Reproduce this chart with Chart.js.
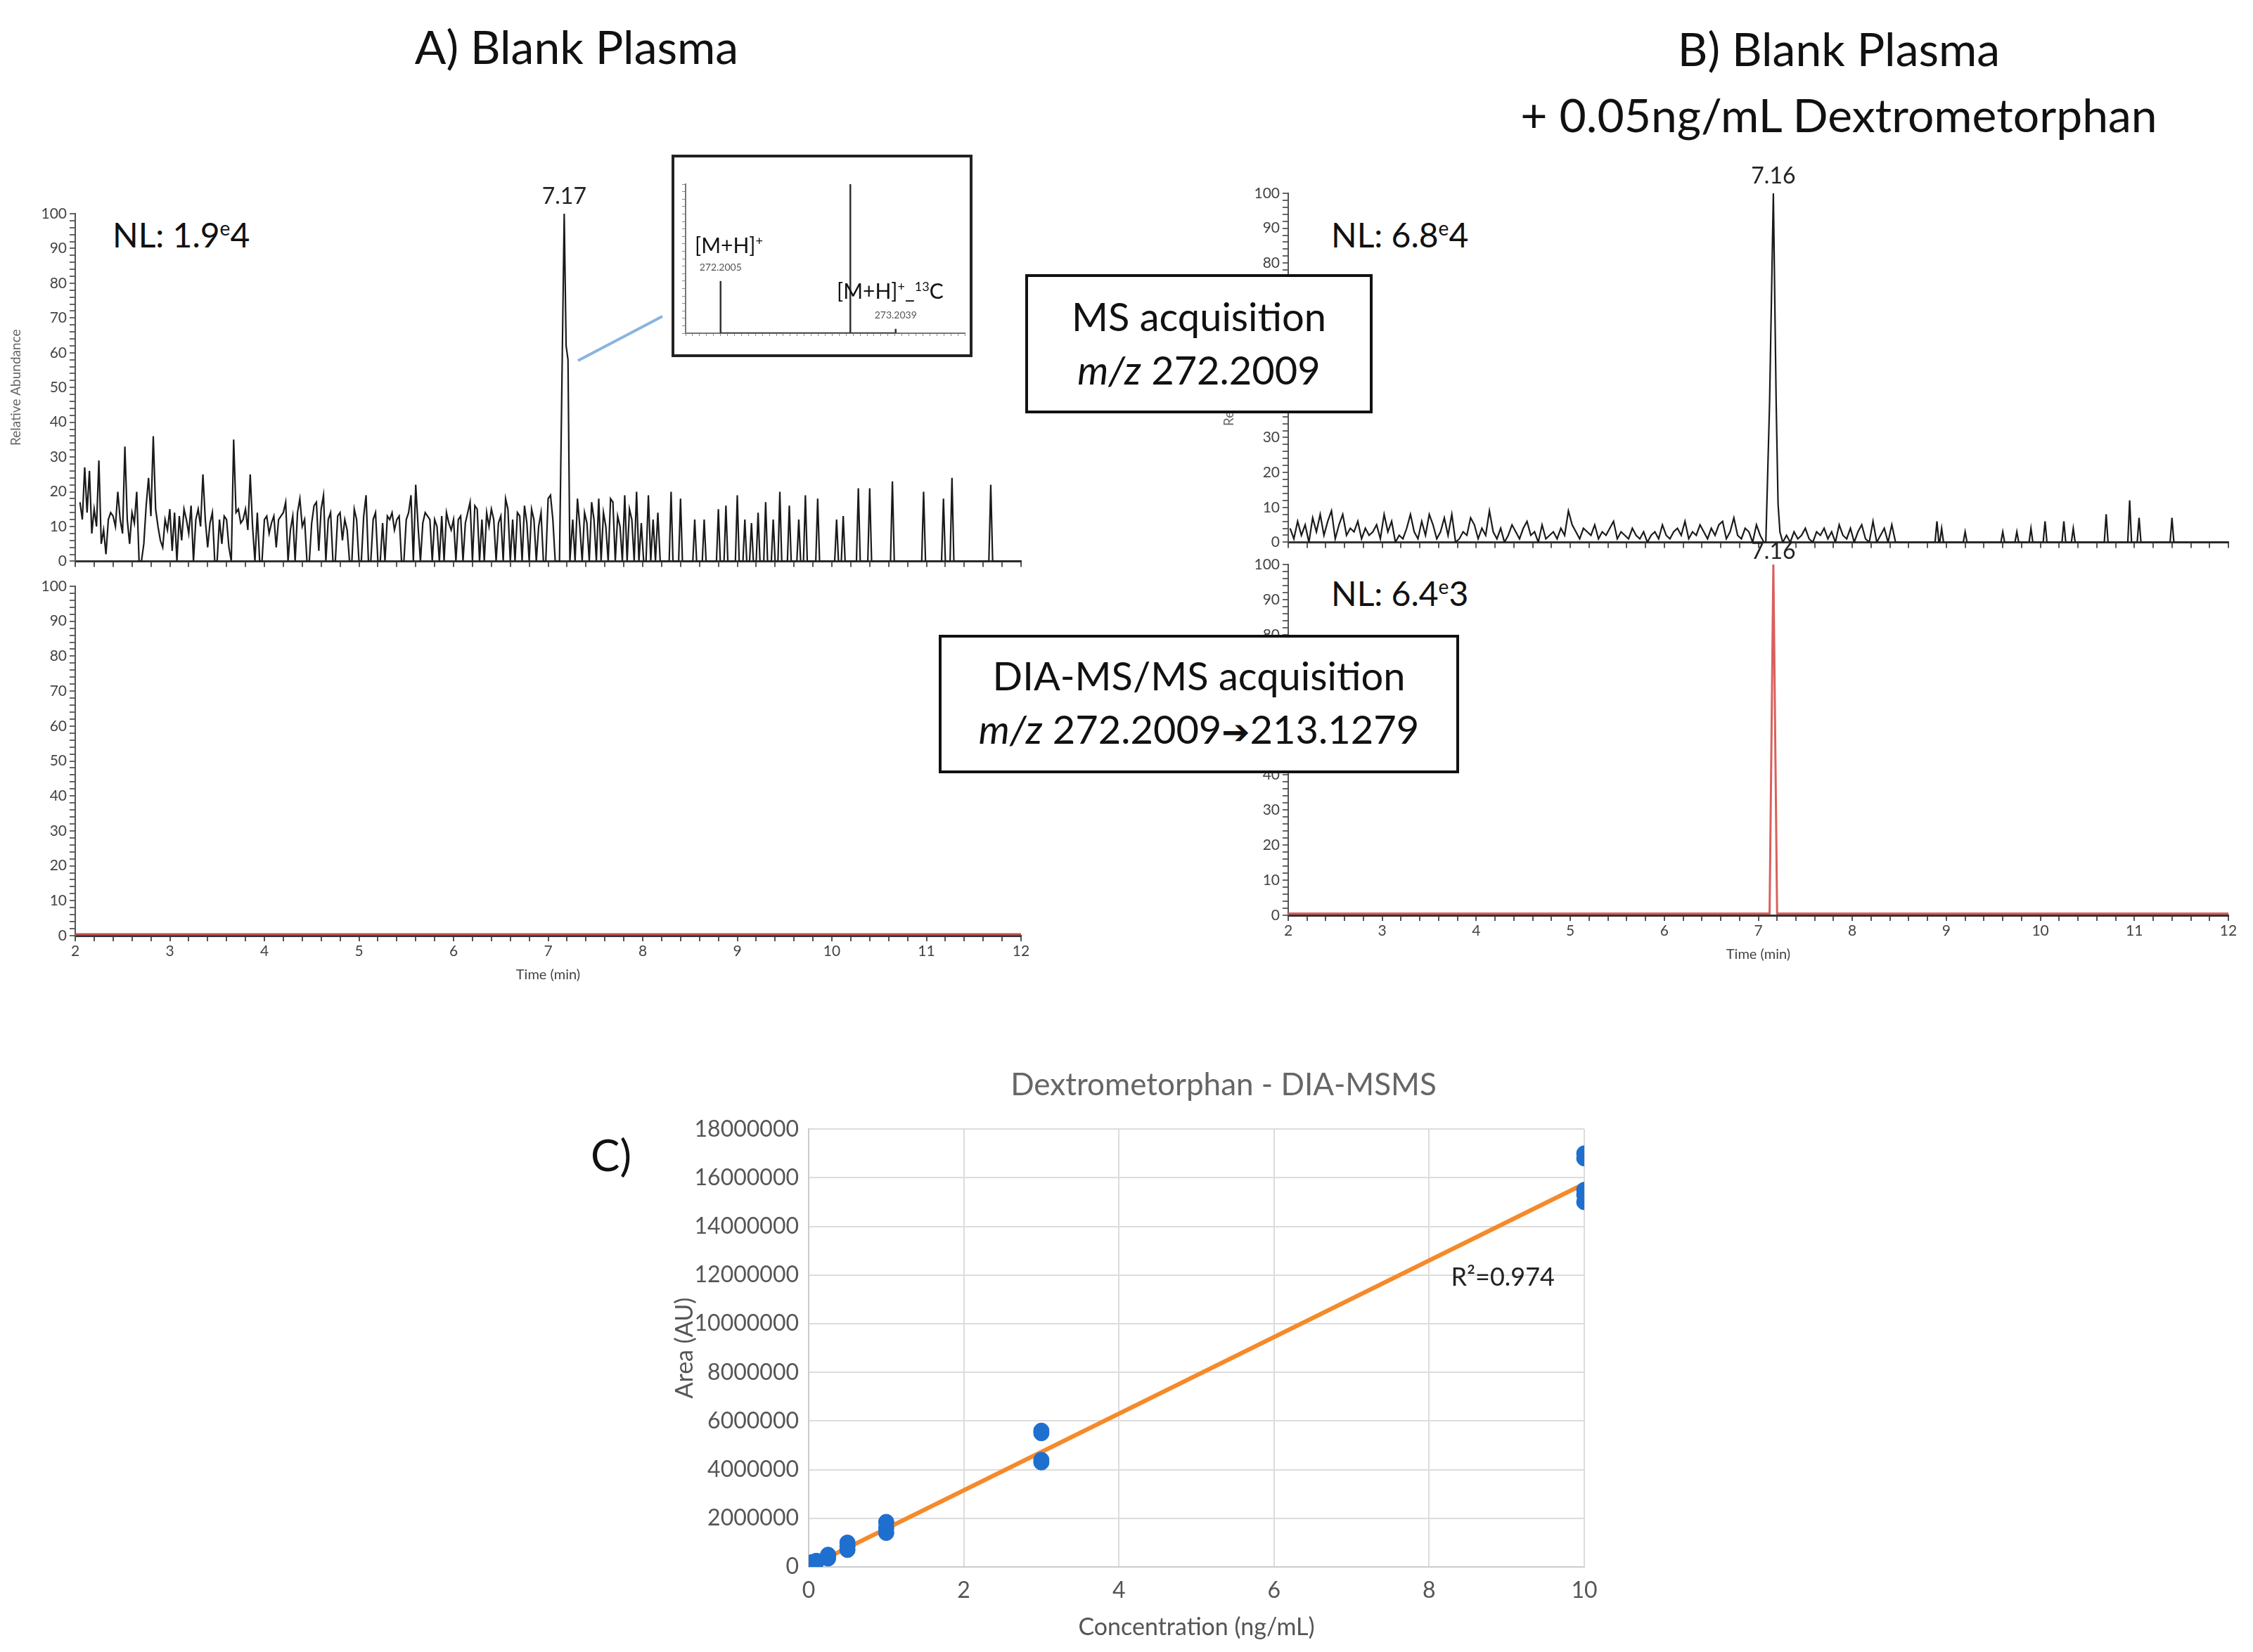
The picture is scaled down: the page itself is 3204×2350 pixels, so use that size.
<!DOCTYPE html>
<html><head><meta charset="utf-8">
<script src="https://cdn.jsdelivr.net/npm/chart.js@4.4.1/dist/chart.umd.min.js"></script>
<style>
body{margin:0;background:#fff;width:3204px;height:2350px;position:relative;overflow:hidden;font-family:Lato,"Open Sans",sans-serif;}
canvas{position:absolute;}
.t{position:absolute;white-space:nowrap;color:#111;}
.box{position:absolute;border:4px solid #111;background:#fff;box-sizing:border-box;text-align:center;color:#111;font-size:56px;line-height:76px;}
</style></head><body>
<div class="t" style="left:0;width:1640px;text-align:center;top:26px;font-size:66px;">A) Blank Plasma</div>
<div class="t" style="left:1800px;width:1630px;text-align:center;top:22px;font-size:66px;line-height:94px;">B) Blank Plasma<br>+ 0.05ng/mL Dextrometorphan</div>
<div class="t" style="left:160px;top:305px;font-size:48px;">NL: 1.9<sup style="font-size:28px">e</sup>4</div>
<div class="t" style="left:1893px;top:305px;font-size:48px;">NL: 6.8<sup style="font-size:28px">e</sup>4</div>
<div class="t" style="left:1893px;top:815px;font-size:48px;">NL: 6.4<sup style="font-size:28px">e</sup>3</div>

<canvas id="aTop"></canvas>
<canvas id="aBot"></canvas>
<canvas id="bTop"></canvas>
<canvas id="bBot"></canvas>
<canvas id="cal"></canvas>

<div class="box" style="left:1458px;top:390px;width:494px;height:198px;padding-top:18px;">MS acquisition<br><i>m/z</i> 272.2009</div>
<div class="box" style="left:1335px;top:903px;width:740px;height:197px;padding-top:16px;">DIA-MS/MS acquisition<br><i>m/z</i> 272.2009<span style="font-family:'DejaVu Sans';font-size:48px;">&#10132;</span>213.1279</div>

<div style="position:absolute;left:955px;top:220px;width:428px;height:288px;border:4px solid #222;box-sizing:border-box;background:#fff;"></div>
<canvas id="inset"></canvas>
<div class="t" style="left:988px;top:330px;font-size:30px;">[M+H]<sup style="font-size:18px">+</sup></div>
<div class="t" style="left:1190px;top:395px;font-size:30px;">[M+H]<sup style="font-size:18px">+</sup>_<sup style="font-size:18px">13</sup>C</div>
<svg style="position:absolute;left:0;top:0" width="3204" height="2350"><line x1="822" y1="513" x2="942" y2="450" stroke="#8ab4e0" stroke-width="4"/></svg>

<div class="t" style="left:1240px;width:1000px;text-align:center;top:1515px;font-size:44px;color:#666;">Dextrometorphan - DIA-MSMS</div>
<div class="t" style="left:840px;top:1605px;font-size:62px;">C)</div>

<script>
// ---------- Data ----------
// A) MS chromatogram, blank plasma: dense noise from 2.05 min, step 0.025 min
const aNoiseStart = 2.05, aNoiseStep = 0.025;
const aNoise = [17,12,27,14,26,8,15,10,29,5, 9,2,12,14,13,10,20,12,8,33, 12,5,14,11,20,0,0,5,16,24,
 13,36,15,10,6,4,12,9,15,3, 14,0,13,6,15,12,8,16,0,12, 15,10,25,12,4,11,14,0,0,12,
 5,13,12,4,0,35,14,15,11,12, 15,9,25,10,0,14,0,0,12,13, 8,11,13,4,12,13,14,17,0,9,
 13,0,14,18,10,12,0,0,11,16, 17,3,15,19,0,12,14,0,0,13, 14,6,12,9,0,0,15,12,0,0,
 13,19,0,0,12,14,0,0,11,0, 13,12,14,9,12,13,0,0,12,14, 19,0,22,10,0,11,14,13,12,0,
 12,10,0,13,0,14,11,9,12,0, 12,13,0,11,14,17,0,16,15,0, 12,0,14,10,15,12,0,11,13,0,
 18,15,0,12,0,14,13,0,16,11, 0,15,12,0,10,14,0,0,18,19, 12,0,0];
const aPeakT = [7.12,7.15,7.17,7.19,7.21,7.23];
const aPeakY = [0,60,100,62,58,0];
const aPostStart = 7.26, aPostStep = 0.025;
const aPost = [12,0,18,10,0,14,11,0,17,12, 0,18,0,14,10,0,18,17,0,13, 10,0,19,0,15,12,0,20,0,11, 0,0,19,0,12,0,14,0];
const aSpikeT = [8.3,8.4,8.55,8.65,8.8,8.88,9.0,9.08,9.15,9.22,9.3,9.38,9.45,9.55,9.65,9.72,9.85,10.05,10.12,10.28,10.4,10.64,10.97,11.18,11.27,11.68];
const aSpikeY = [20,18,12,12,15,16,19,12,11,14,17,12,20,16,12,19,18,12,13,21,21,23,20,18,24,22];
// A) DIA-MS/MS trace (flat)
const aMsmsT = [2,12];
const aMsmsY = [0.4,0.4];

// B) MS chromatogram, spiked plasma: noise from 2.02 min, step 0.04 min
const bNoiseStart = 2.02, bNoiseStep = 0.04;
const bNoise = [4,1,6,2,5,0,7,3,8,2, 6,9,1,5,8,2,4,3,6,1, 4,2,3,5,1,8,3,6,0,2, 1,4,8,3,1,6,2,8,5,1,
 3,7,2,8,0,1,3,2,7,5, 1,4,2,9,3,1,4,0,2,5, 3,1,4,6,2,3,0,5,1,2, 3,1,4,2,9,5,3,1,4,3,
 2,5,1,3,2,4,6,1,3,2, 1,4,2,1,3,0,2,3,1,5, 2,1,3,4,2,6,1,3,2,5, 3,1,4,2,5,6,1,3,7,2, 1,4,3,0,5,2,0];
const bPeakT = [7.08,7.12,7.16,7.19,7.21,7.23,7.26];
const bPeakY = [0,40,100,40,11,3,0];
const bPostStart = 7.3, bPostStep = 0.04;
const bPost = [2,0,3,1,2,4,1,0,3,2, 4,1,3,0,5,2,1,4,0,3, 5,1,0,6,0,2,4,0,5,0,0];
const bSpikeT = [8.9,8.95,9.2,9.6,9.75,9.9,10.05,10.25,10.35,10.7,10.95,11.05,11.4];
const bSpikeY = [6,4,3,3,3,4,6,6,4,8,12,7,7];
// B) DIA-MS/MS trace
const bMsmsT = [2,7.12,7.14,7.16,7.18,7.2,12];
const bMsmsY = [0.5,0.5,50,100,50,0.5,0.5];

// Inset mass spectrum
const specMz = [272.2005,272.9441,273.2039];
const specInt = [35,100,3];

// C) Calibration curve
const calX = [0.05,0.05,0.05,0.1,0.1,0.25,0.25,0.25,0.5,0.5,0.5,1,1,1,3,3,3,3,10,10,10,10,10];
const calY = [100000,150000,200000,200000,250000,350000,450000,500000,700000,850000,1000000,1400000,1600000,1850000,4300000,4400000,5500000,5600000,15000000,15300000,15500000,16800000,17000000];
const fitX = [0.05,10];
const fitY = [80000,15750000];
const r2Text = 'R²=0.974';

// ---------- Build series ----------
function seq(start, step, vals){return vals.map((v,i)=>({x:+(start+i*step).toFixed(3),y:v}));}
function pairs(xs,ys){return xs.map((x,i)=>({x,y:ys[i]}));}
function spikes(ts,hs){const o=[];ts.forEach((t,i)=>{o.push({x:t-0.02,y:0},{x:t,y:hs[i]},{x:t+0.02,y:0});});return o;}

const aTopData = [...seq(aNoiseStart,aNoiseStep,aNoise),...pairs(aPeakT,aPeakY),...seq(aPostStart,aPostStep,aPost),...spikes(aSpikeT,aSpikeY),{x:12,y:0}];
const bTopData = [...seq(bNoiseStart,bNoiseStep,bNoise),...pairs(bPeakT,bPeakY),...seq(bPostStart,bPostStep,bPost),...spikes(bSpikeT,bSpikeY),{x:12,y:0}];

Chart.defaults.devicePixelRatio = 1;
Chart.defaults.animation = false;
Chart.defaults.font.family = 'Lato, "Open Sans", sans-serif';

const peakLabel = {id:'peakLabel',afterDatasetsDraw(c,a,o){
  if(!o.items) return; const ctx=c.ctx;
  o.items.forEach(it=>{const x=c.scales.x.getPixelForValue(it.x),y=c.scales.y.getPixelForValue(it.y);
    ctx.save();ctx.fillStyle=it.color||'#222';ctx.font=(it.size||28)+'px Lato, sans-serif';ctx.textAlign='center';ctx.textBaseline='bottom';
    ctx.fillText(it.text,x+(it.dx||0),y-(it.dy||6));ctx.restore();});
}};
Chart.register(peakLabel);

function place(id, areaL, areaT, areaR, areaB, yW, xH, padT, padR){
  const c=document.getElementById(id);
  const L=areaL-yW, T=areaT-padT, W=areaR-L+padR, H=areaB-T+xH;
  c.style.left=L+'px';c.style.top=T+'px';c.width=W;c.height=H;c.style.width=W+'px';c.style.height=H+'px';
  return c;
}

function chrom(id, box, datasets, showX, yTitle, labels){
  const [l,t,r,b]=box;
  const xH=showX?68:14;
  const c=place(id,l,t,r,b,100,xH,60,20);
  new Chart(c,{type:'line',data:{datasets},options:{
    responsive:false,maintainAspectRatio:false,layout:{padding:{top:60,right:20,left:0,bottom:0}},
    elements:{point:{radius:0},line:{tension:0,borderJoinStyle:'miter'}},
    plugins:{legend:{display:false},tooltip:{enabled:false},peakLabel:{items:labels}},
    scales:{
      x:{type:'linear',min:2,max:12,afterFit:s=>{s.height=xH;},
        border:{color:'#333',width:3},
        grid:{drawOnChartArea:false,drawTicks:true,tickLength:8,color:'#555',lineWidth:2},
        ticks:{stepSize:0.2,autoSkip:false,maxRotation:0,color:'#444',font:{size:21},padding:2,
          display:showX,callback:v=>Math.abs(v-Math.round(v))<1e-6?String(Math.round(v)):''},
        title:{display:showX,text:'Time (min)',color:'#444',font:{size:20},padding:{top:0,bottom:0}}},
      y:{type:'linear',min:0,max:100,afterFit:s=>{s.width=100;},
        border:{color:'#555',width:2},
        grid:{drawOnChartArea:false,drawTicks:true,tickLength:8,color:'#666',lineWidth:2},
        ticks:{stepSize:2,autoSkip:false,color:'#444',font:{size:21},padding:4,
          callback:v=>v%10===0?String(v):''},
        title:{display:!!yTitle,text:'Relative Abundance',color:'#666',font:{size:19},padding:{bottom:2}}}
    }}});
}

chrom('aTop',[107,304,1452,801],[{data:aTopData,borderColor:'#1a1a1a',borderWidth:2.2,fill:false}],false,true,[{x:7.17,y:100,text:'7.17',size:32,dy:8}]);
chrom('aBot',[107,834,1452,1331],[{data:pairs(aMsmsT,aMsmsY),borderColor:'#c0504d',borderWidth:3,fill:false}],true,false,[]);
chrom('bTop',[1832,275,3169,774],[{data:bTopData,borderColor:'#1a1a1a',borderWidth:2.2,fill:false}],false,true,[{x:7.16,y:100,text:'7.16',size:32,dy:8}]);
chrom('bBot',[1832,803,3169,1302],[{data:pairs(bMsmsT,bMsmsY),borderColor:'#d9605c',borderWidth:3,fill:false}],true,false,[{x:7.16,y:100,text:'7.16',size:32,dy:2}]);

// Inset spectrum
(function(){
  const c=place('inset',975,262,1372,474,10,12,8,6);
  const data=[];specMz.forEach((m,i)=>{data.push({x:m,y:0},{x:m,y:specInt[i]},{x:m,y:0});});
  new Chart(c,{type:'line',data:{datasets:[{data,borderColor:'#333',borderWidth:2.5,pointRadius:0,tension:0}]},options:{
    responsive:false,layout:{padding:{top:8,right:6}},
    plugins:{legend:{display:false},tooltip:{enabled:false},peakLabel:{items:specMz.map((m,i)=>({x:m,y:specInt[i],text:m.toFixed(4),size:14,color:'#555',dy:12}))}},
    scales:{x:{type:'linear',min:272.0,max:273.6,afterFit:s=>{s.height=12;},border:{color:'#777',width:2},
        grid:{drawOnChartArea:false,tickLength:4,color:'#888'},ticks:{stepSize:0.04,autoSkip:false,display:false}},
      y:{type:'linear',min:0,max:100,afterFit:s=>{s.width=10;},border:{color:'#777',width:2},
        grid:{drawOnChartArea:false,tickLength:5,color:'#888'},ticks:{stepSize:5,autoSkip:false,display:false}}}
  }});
})();

// Calibration
(function(){
  const c=place('cal',1150,1597,2253,2229,200,110,24,50);
  new Chart(c,{type:'scatter',data:{datasets:[
    {type:'line',data:pairs(fitX,fitY),borderColor:'#f58a2a',borderWidth:6,pointRadius:0,order:2},
    {data:pairs(calX,calY),backgroundColor:'#1f6fcf',borderColor:'#1f6fcf',pointRadius:11,order:1}
  ]},options:{responsive:false,layout:{padding:{top:24,right:50}},
    plugins:{legend:{display:false},tooltip:{enabled:false},peakLabel:{items:[{x:8.95,y:11200000,text:r2Text,size:36,color:'#222'}]}},
    scales:{
      x:{type:'linear',min:0,max:10,afterFit:s=>{s.height=110;},border:{color:'#ccc',width:2},
        grid:{color:'#dcdcdc',lineWidth:2,drawTicks:false},
        ticks:{stepSize:2,color:'#555',font:{size:32},padding:14},
        title:{display:true,text:'Concentration (ng/mL)',color:'#555',font:{size:34},padding:{top:0}}},
      y:{type:'linear',min:0,max:18000000,afterFit:s=>{s.width=200;},border:{color:'#ccc',width:2},
        grid:{color:'#dcdcdc',lineWidth:2,drawTicks:false},
        ticks:{stepSize:2000000,color:'#555',font:{size:32},padding:14,callback:v=>String(v)},
        title:{display:true,text:'Area (AU)',color:'#555',font:{size:34},padding:{bottom:0}}}
    }}});
})();
</script>
</body></html>
